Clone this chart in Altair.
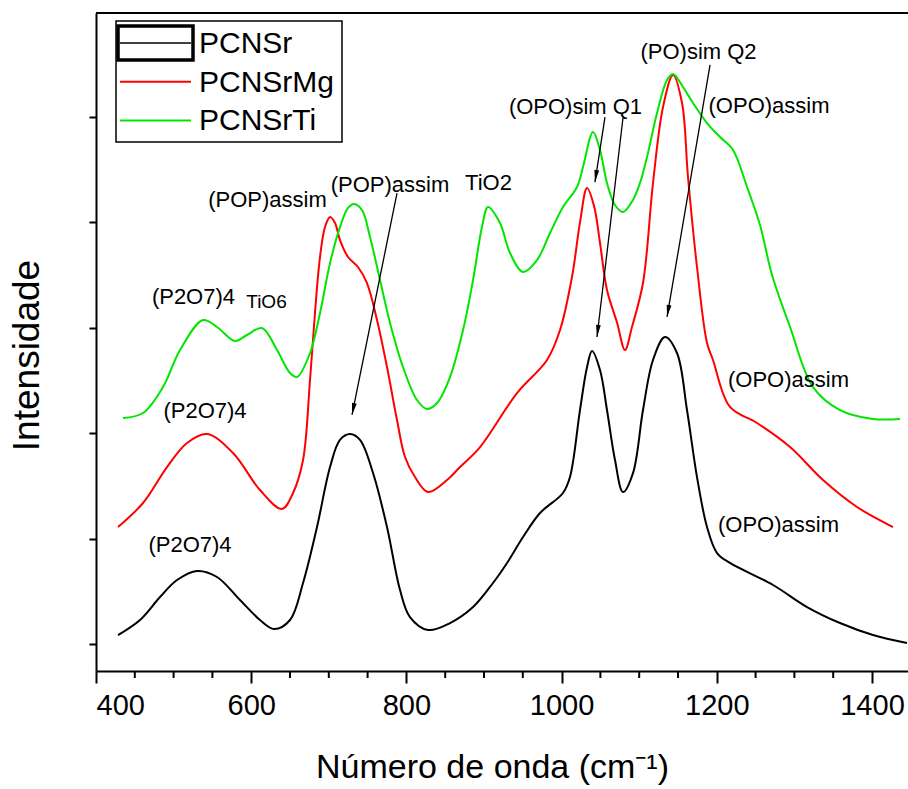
import math
import altair as alt
import pandas as pd

# ---- spectra (wavenumber in cm-1, stacked intensity in arbitrary units) ----
SERIES = ["PCNSr", "PCNSrMg", "PCNSrTi"]
COLORS = ["#000000", "#ff0000", "#00e600"]

pcnsr_x = [428.4, 456.7, 482.5, 504.4, 530.2, 555.9, 585.6, 611.3, 629.4, 650.0,
           666.8, 684.8, 701.6, 714.4, 727.3, 740.2, 757.0, 775.0, 791.8, 804.6,
           827.9, 856.2, 885.9, 911.6, 929.7, 950.3, 972.2, 1001.8, 1010.8, 1023.7,
           1032.8, 1039.2, 1049.5, 1058.5, 1068.8, 1079.1, 1092.0, 1104.9, 1117.8,
           1133.2, 1148.7, 1161.6, 1174.5, 1187.4, 1200.3, 1217.0, 1272.5, 1316.3,
           1358.8, 1401.3, 1445.1]
pcnsr_y = [0.085, 0.228, 0.446, 0.607, 0.693, 0.636, 0.417, 0.228, 0.142, 0.228,
           0.579, 1.110, 1.679, 1.936, 1.992, 1.936, 1.622, 1.110, 0.512, 0.256,
           0.133, 0.199, 0.351, 0.579, 0.769, 1.015, 1.243, 1.433, 1.584, 2.220,
           2.628, 2.780, 2.600, 2.220, 1.746, 1.442, 1.622, 2.220, 2.695,
           2.913, 2.761, 2.220, 1.584, 1.110, 0.863, 0.769, 0.560, 0.351,
           0.199, 0.085, 0.009]

pcnsrmg_x = [428.4, 460.6, 491.5, 517.3, 543.0, 576.6, 611.3, 639.7, 653.9, 666.8,
             675.8, 682.2, 688.7, 695.1, 701.6, 708.0, 714.4, 724.8, 737.6, 749.2,
             762.1, 775.0, 787.9, 798.2, 811.1, 827.9, 852.3, 869.1, 894.9, 942.5,
             981.2, 998.0, 1013.4, 1023.7, 1032.8, 1042.0, 1049.5, 1058.5, 1071.4, 1081.7,
             1090.7, 1104.9, 1117.8, 1130.7, 1143.6, 1155.2, 1162.9, 1174.5, 1187.4,
             1195.1, 1217.0, 1251.8, 1294.4, 1336.9, 1380.7, 1427.1]
pcnsrmg_y = [1.110, 1.338, 1.679, 1.907, 1.992, 1.812, 1.461, 1.281, 1.433, 1.746,
             2.505, 3.141, 3.672, 3.956, 4.051, 3.994, 3.833, 3.672, 3.577, 3.425,
             3.074, 2.628, 2.125, 1.774, 1.584, 1.442, 1.556, 1.679, 1.869, 2.381,
             2.695, 2.979, 3.482, 4.000, 4.327, 4.150, 3.805, 3.359, 3.050, 2.789,
             3.008, 3.425, 4.374, 5.095, 5.399, 5.133, 4.431, 3.577, 2.856,
             2.695, 2.249, 2.097, 1.869, 1.556, 1.300, 1.110]

pcnsrti_x = [434.8, 460.6, 486.3, 508.3, 537.9, 555.9, 579.1, 594.6, 613.9, 633.3,
             650.0, 659.0, 675.8, 688.7, 701.6, 714.4, 724.8, 732.5, 742.8, 753.1,
             766.0, 778.9, 795.6, 813.7, 826.6, 839.5, 856.2, 873.0, 885.9, 897.4,
             905.2, 920.6, 933.5, 950.3, 968.3, 985.1, 1001.8, 1019.9, 1027.6, 1040.5,
             1049.5, 1058.5, 1068.8, 1079.1, 1092.0, 1101.0, 1110.1, 1123.0, 1135.9,
             1143.6, 1156.5, 1169.4, 1187.4, 1204.2, 1220.9, 1239.0, 1255.7, 1271.2,
             1294.4, 1324.0, 1358.8, 1401.3, 1436.1]
pcnsrti_y = [2.144, 2.192, 2.438, 2.789, 3.074, 3.008, 2.875, 2.932, 2.998, 2.789,
             2.571, 2.533, 2.761, 3.141, 3.615, 3.956, 4.137, 4.175, 4.118, 3.862,
             3.454, 3.046, 2.628, 2.315, 2.230, 2.287, 2.533, 2.979, 3.454, 3.956,
             4.146, 3.994, 3.710, 3.530, 3.643, 3.900, 4.146, 4.336, 4.526, 4.858,
             4.687, 4.374, 4.165, 4.099, 4.213, 4.374, 4.621, 5.038, 5.351,
             5.408, 5.285, 5.133, 4.943, 4.810, 4.687, 4.336, 3.975, 3.501,
             3.008, 2.438, 2.220, 2.135, 2.135]

# ---- band assignments ----
ANN_TEXT = ["(P2O7)4", "TiO6", "(P2O7)4", "(P2O7)4", "(POP)assim", "(POP)assim",
            "TiO2", "(OPO)sim Q1", "(PO)sim Q2", "(OPO)assim", "(OPO)assim", "(OPO)assim"]
ANN_X = [525.6, 619.7, 540.5, 521.1, 621.0, 778.9, 905.8, 1017.9, 1176.5, 1267.3, 1292.4, 1279.5]
ANN_Y = [3.29, 3.245, 2.211, 0.939, 4.213, 4.355, 4.374, 5.095, 5.617, 5.105, 2.505, 1.129]
ANN_SIZE = [22, 19, 22, 22, 22, 22, 22, 22, 22, 22, 22, 22]

ARROW_X0 = [787.9, 1055.9, 1079.1, 1191.3]
ARROW_Y0 = [4.279, 5.000, 4.991, 5.494]
ARROW_X1 = [729.9, 1043.0, 1045.6, 1135.9]
ARROW_Y1 = [2.173, 4.383, 2.913, 3.103]

X_MAJOR = [400, 600, 800, 1000, 1200, 1400]
X_MINOR = [450, 500, 550, 650, 700, 750, 850, 900, 950, 1050, 1100, 1150, 1250, 1300, 1350]
Y_TICKS = [0, 1, 2, 3, 4, 5]

X_DOMAIN = [400, 1446.4]
Y_DOMAIN = [-0.256, 5.987]
W, H = 812, 658
FONT = "Liberation Sans"

frames = []
for name, xs, ys in [("PCNSr", pcnsr_x, pcnsr_y),
                     ("PCNSrMg", pcnsrmg_x, pcnsrmg_y),
                     ("PCNSrTi", pcnsrti_x, pcnsrti_y)]:
    frames.append(pd.DataFrame({"serie": name, "onda": xs, "intensidade": ys,
                                "ordem": range(len(xs))}))
spectra = pd.concat(frames, ignore_index=True)

xscale = alt.Scale(domain=X_DOMAIN, nice=False, zero=False)
yscale = alt.Scale(domain=Y_DOMAIN, nice=False, zero=False)

X_AXIS = alt.Axis(values=X_MAJOR, format="d", grid=False,
                  labelFont=FONT, labelFontSize=29, labelColor="black",
                  labelPadding=8, tickSize=12, tickWidth=2, tickColor="black",
                  domainColor="black", domainWidth=2,
                  title="Número de onda (cm⁻¹)", titleFont=FONT,
                  titleFontSize=34, titleFontWeight="normal", titleColor="black",
                  titleX=396, titleY=96, titleAlign="center",
                  titleBaseline="middle")
Y_AXIS = alt.Axis(values=Y_TICKS, labels=False, grid=False,
                  tickSize=7, tickWidth=2, tickColor="black",
                  domainColor="black", domainWidth=2,
                  title="Intensidade", titleFont=FONT, titleFontSize=37,
                  titleFontWeight="normal", titleColor="black",
                  titleX=-69, titleY=342, titleAngle=270,
                  titleAlign="center", titleBaseline="middle")


def xenc(field):
    return alt.X(field, type="quantitative", scale=xscale, axis=X_AXIS)


def yenc(field):
    return alt.Y(field, type="quantitative", scale=yscale, axis=Y_AXIS)


curves = alt.Chart(spectra).mark_line(strokeWidth=2, interpolate="catmull-rom").encode(
    x=xenc("onda"),
    y=yenc("intensidade"),
    color=alt.Color("serie:N", scale=alt.Scale(domain=SERIES, range=COLORS), legend=None),
    order="ordem:Q",
)

# minor ticks on the wavenumber axis
minor = alt.Chart(pd.DataFrame({"onda": X_MINOR})).mark_rule(
    color="black", strokeWidth=2).encode(
    x=xenc("onda"),
    y=alt.value(H), y2=alt.value(H + 7),
)

one = pd.DataFrame({"k": [0]})
top_line = alt.Chart(one).mark_rule(color="black", strokeWidth=2).encode(
    x=alt.value(0), x2=alt.value(W), y=alt.value(0))

labels = alt.Chart(pd.DataFrame({"t": ANN_TEXT, "x": ANN_X, "y": ANN_Y, "s": ANN_SIZE})).mark_text(
    font=FONT, color="black", align="center", baseline="middle").encode(
    x=xenc("x"),
    y=yenc("y"),
    text="t:N",
    size=alt.Size("s:Q", scale=None, legend=None),
)

arrows = pd.DataFrame({"x0": ARROW_X0, "y0": ARROW_Y0, "x1": ARROW_X1, "y1": ARROW_Y1})
sx = W / (X_DOMAIN[1] - X_DOMAIN[0])
sy = H / (Y_DOMAIN[1] - Y_DOMAIN[0])
arrows["ang"] = [
    math.degrees(math.atan2(-(x1 - x0) * sx, -(y1 - y0) * sy)) % 360
    for x0, y0, x1, y1 in zip(ARROW_X0, ARROW_Y0, ARROW_X1, ARROW_Y1)
]

shafts = alt.Chart(arrows).mark_rule(color="black", strokeWidth=1.3).encode(
    x=xenc("x0"), y=yenc("y0"),
    x2="x1:Q", y2="y1:Q",
)
heads = alt.Chart(arrows).mark_point(
    shape="M0,0 L-0.4,-2 L0.4,-2 Z", filled=True, color="black", size=144, opacity=1
).encode(
    x=xenc("x1"), y=yenc("y1"),
    angle=alt.Angle("ang:Q", scale=None),
)

# legend box
legend_layers = [
    alt.Chart(one).mark_rect(fill="white", stroke="black", strokeWidth=1.5).encode(
        x=alt.value(20), x2=alt.value(246), y=alt.value(8), y2=alt.value(129)),
    alt.Chart(one).mark_rect(fill=None, stroke="black", strokeWidth=3.5).encode(
        x=alt.value(22), x2=alt.value(97), y=alt.value(13), y2=alt.value(47)),
]
for i, (name, col) in enumerate(zip(SERIES, COLORS)):
    yy = 30 + i * 38.7
    legend_layers.append(
        alt.Chart(one).mark_rule(color=col, strokeWidth=2 if i else 1.5).encode(
            x=alt.value(24), x2=alt.value(95), y=alt.value(yy)))
    legend_layers.append(
        alt.Chart(one).mark_text(font=FONT, fontSize=30, color="black", align="left",
                                 baseline="middle").encode(
            x=alt.value(103), y=alt.value(yy + 1), text=alt.value(name)))

chart = alt.layer(curves, minor, top_line, shafts, heads, labels, *legend_layers).properties(
    width=W, height=H,
    autosize=alt.AutoSizeParams(type="none"),
    padding={"left": 96, "top": 13, "right": 0, "bottom": 118},
).configure_view(stroke=None).configure(background="white")

chart.save("out.html", embed_options={"renderer": "svg", "actions": False})
